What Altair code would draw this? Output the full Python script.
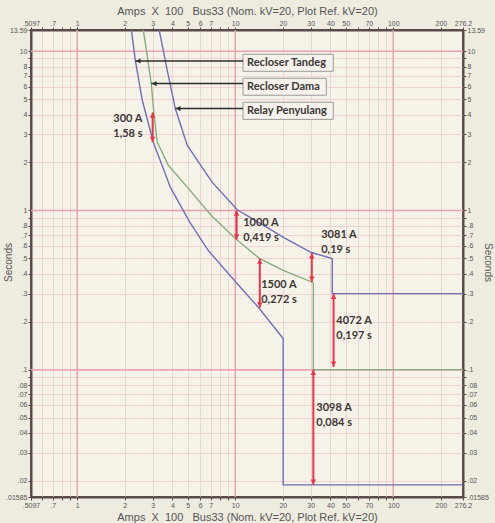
import altair as alt
import pandas as pd

# ---------------- data (Amps x100, seconds) ----------------
tandeg_amps = [2.20, 2.33, 2.58, 3.03, 3.88, 5.12, 6.75, 10.8, 14.2, 20.1, 20.1, 276.2]
tandeg_sec = [13.59, 8.78, 4.92, 2.68, 1.40, 0.853, 0.56, 0.328, 0.242, 0.157, 0.0189, 0.0189]

dama_amps = [2.62, 2.94, 3.05, 3.21, 3.77, 4.97, 7.05, 10.0, 14.2, 20.1, 31.2, 31.2, 276.2]
dama_sec = [13.59, 6.29, 4.13, 2.68, 1.92, 1.40, 0.93, 0.667, 0.50, 0.42, 0.352, 0.10, 0.10]

relay_amps = [3.30, 3.71, 4.17, 4.97, 7.15, 10.3, 14.4, 20.7, 30.3, 41.1, 41.1, 276.2]
relay_sec = [13.59, 7.60, 4.38, 2.56, 1.50, 1.01, 0.828, 0.667, 0.544, 0.499, 0.30, 0.30]

series_names = ["Relay Penyulang", "Recloser Dama", "Recloser Tandeg"]

# red double-arrow annotations
ann_amps = [3.0, 10.2, 30.5, 14.3, 41.9, 31.2]
ann_top = [4.13, 1.0, 0.54, 0.50, 0.30, 0.10]
ann_bot = [2.68, 0.655, 0.355, 0.245, 0.104, 0.0189]
ann_line1 = ["300 A", "1000 A", "3081 A", "1500 A", "4072 A", "3098 A"]
ann_line2 = ["1,58 s", "0,419 s", "0,19 s", "0,272 s", "0,197 s", "0,084 s"]
ann_text_amps = [1.69, 11.23, 35.0, 14.6, 43.6, 32.6]
ann_text_sec = [3.73, 0.828, 0.696, 0.338, 0.203, 0.0577]

# callout boxes
call_labels = ["Recloser Tandeg", "Recloser Dama", "Relay Penyulang"]
call_tip_amps = [2.33, 2.94, 4.17]
call_arrow_sec = [8.69, 6.26, 4.36]
call_box_left = [11.2, 11.2, 11.2]
call_box_right = [41.7, 37.7, 41.7]
call_box_top = [9.57, 6.76, 4.78]
call_box_bottom = [7.48, 5.29, 3.73]
call_text_sec = [8.47, 5.98, 4.22]

# axes
x_domain = [0.5097, 276.2]
y_domain = [0.01585, 13.59]
x_ticks = [0.5097, 0.6, 0.7, 0.8, 0.9, 1, 2, 3, 4, 5, 6, 7, 8, 9, 10, 20, 30, 40, 50,
           60, 70, 80, 90, 100, 200, 276.2]
x_labels = [".5097", "", ".7", "", "", "1", "2", "3", "4", "5", "6", "7", "", "", "10",
            "20", "30", "40", "50", "", "70", "", "", "100", "200", "276.2"]
y_ticks = [0.01585, 0.02, 0.03, 0.04, 0.05, 0.06, 0.07, 0.08, 0.09, 0.1, 0.2, 0.3, 0.4,
           0.5, 0.6, 0.7, 0.8, 0.9, 1, 2, 3, 4, 5, 6, 7, 8, 9, 10, 13.59]
y_labels = [".01585", ".02", ".03", ".04", ".05", ".06", ".07", ".08", "", ".1", ".2",
            ".3", ".4", ".5", ".6", ".7", ".8", "", "1", "2", "3", "4", "5", "6", "7",
            "8", "", "10", "13.59"]
x_major = [1, 10, 100]
y_major = [0.1, 1, 10]

NB = "\u00a0"
x_title = f"Amps{NB} X {NB}100 {NB}{NB}Bus33 (Nom. kV=20, Plot Ref. kV=20)"
y_title = "Seconds"

# ---------------- styles ----------------
BLUE = "#6f6fb4"
GREEN = "#86ad7c"
RED = "#e2384c"
DARK = "#3b3737"
FRAME = "#5b4a4a"
GRID = "#efd3d3"
MAJOR = "#e8a2b2"
FONT = "Lato"
AXFONT = "Liberation Sans"


def label_expr(vals, labels):
    expr = "''"
    for v, l in zip(reversed(vals), reversed(labels)):
        expr = f"(abs(datum.value - {v}) < {v * 1e-4}) ? '{l}' : ({expr})"
    return expr


xs = alt.Scale(type="log", domain=x_domain, nice=False)
ys = alt.Scale(type="log", domain=y_domain, nice=False)

common_axis = dict(
    labelFont=AXFONT, labelFontSize=7, labelColor="#555", tickColor=FRAME,
    tickSize=3, labelPadding=1, domainColor=FRAME, domainWidth=2,
    labelOverlap=False, labelBound=False, labelFlush=False,
    titleFont=AXFONT, titleFontWeight="normal", titleColor="#555",
)


def x_axis(orient, grid):
    return alt.Axis(orient=orient, values=x_ticks, labelExpr=label_expr(x_ticks, x_labels),
                    grid=grid, gridColor=GRID, gridWidth=1, title=x_title,
                    titleFontSize=11, titlePadding=3, **common_axis)


def y_axis(orient, grid, tx):
    return alt.Axis(orient=orient, values=y_ticks, labelExpr=label_expr(y_ticks, y_labels),
                    grid=grid, gridColor=GRID, gridWidth=1, title=y_title,
                    titleFontSize=10, titleX=tx, titleY=232, titleBaseline="middle",
                    titleAlign="center", **common_axis)


axis_df = pd.DataFrame({"a": [1.0], "s": [1.0]})
axes_bl = alt.Chart(axis_df).mark_point(opacity=0).encode(
    x=alt.X("a:Q", scale=xs, axis=x_axis("bottom", True)),
    y=alt.Y("s:Q", scale=ys, axis=y_axis("left", True, -23)),
)
axes_tr = alt.Chart(axis_df).mark_point(opacity=0).encode(
    x=alt.X("a:Q", scale=xs, axis=x_axis("top", False)),
    y=alt.Y("s:Q", scale=ys, axis=y_axis("right", False, 24)),
)

X = lambda f: alt.X(f, scale=xs, axis=None)
Y = lambda f: alt.Y(f, scale=ys, axis=None)

major_x = alt.Chart(pd.DataFrame({"a": x_major})).mark_rule(
    color=MAJOR, strokeWidth=1.5).encode(x=X("a:Q"))
major_y = alt.Chart(pd.DataFrame({"s": y_major})).mark_rule(
    color=MAJOR, strokeWidth=1.5).encode(y=Y("s:Q"))

rows = []
for name, am, se in [("Relay Penyulang", relay_amps, relay_sec),
                     ("Recloser Dama", dama_amps, dama_sec),
                     ("Recloser Tandeg", tandeg_amps, tandeg_sec)]:
    for i, (a, s) in enumerate(zip(am, se)):
        rows.append({"series": name, "a": a, "s": s, "i": i})
curve_df = pd.DataFrame(rows)

curves = alt.Chart(curve_df).mark_line(strokeWidth=1.4, clip=True).encode(
    x=X("a:Q"), y=Y("s:Q"), order="i:Q", detail="series:N",
    color=alt.Color("series:N", legend=None,
                    scale=alt.Scale(domain=series_names, range=[BLUE, GREEN, BLUE])),
)

ann_df = pd.DataFrame({"a": ann_amps, "top": ann_top, "bot": ann_bot,
                       "l1": ann_line1, "l2": ann_line2,
                       "ta": ann_text_amps, "ts": ann_text_sec})
red_shaft = alt.Chart(ann_df).mark_rule(color=RED, strokeWidth=2).encode(
    x=X("a:Q"), y=Y("top:Q"), y2="bot:Q")
red_up = alt.Chart(ann_df).mark_point(shape="triangle-up", filled=True, size=32,
                                      color=RED, opacity=1, yOffset=3).encode(
    x=X("a:Q"), y=Y("top:Q"))
red_down = alt.Chart(ann_df).mark_point(shape="triangle-down", filled=True, size=32,
                                        color=RED, opacity=1, yOffset=-3).encode(
    x=X("a:Q"), y=Y("bot:Q"))
txt_kw = dict(font=FONT, fontSize=11, fontWeight="bold", color=DARK, align="left",
              baseline="middle")
ann_t1 = alt.Chart(ann_df).mark_text(**txt_kw).encode(x=X("ta:Q"), y=Y("ts:Q"), text="l1:N")
ann_t2 = alt.Chart(ann_df).mark_text(dy=15, **txt_kw).encode(x=X("ta:Q"), y=Y("ts:Q"), text="l2:N")

call_df = pd.DataFrame({"lab": call_labels, "tip": call_tip_amps, "ys": call_arrow_sec,
                        "x1": call_box_left, "x2": call_box_right,
                        "y1": call_box_top, "y2": call_box_bottom, "ty": call_text_sec})
call_box = alt.Chart(call_df).mark_rect(fill="#f4f2ea", stroke="#9a9a9a", strokeWidth=1).encode(
    x=X("x1:Q"), x2="x2:Q", y=Y("y1:Q"), y2="y2:Q")
call_line = alt.Chart(call_df).mark_rule(color="#2f2f2f", strokeWidth=1.5).encode(
    x=X("tip:Q"), x2="x1:Q", y=Y("ys:Q"))
call_head = alt.Chart(call_df).mark_point(shape="triangle-left", filled=True, size=28,
                                          color="#2f2f2f", opacity=1, xOffset=3).encode(
    x=X("tip:Q"), y=Y("ys:Q"))
call_txt = alt.Chart(call_df).mark_text(dx=4, **txt_kw).encode(
    x=X("x1:Q"), y=Y("ty:Q"), text="lab:N")

chart = alt.layer(
    axes_bl, axes_tr, major_x, major_y, curves,
    red_shaft, red_up, red_down, ann_t1, ann_t2,
    call_box, call_line, call_head, call_txt,
).resolve_axis(x="independent", y="independent").properties(
    width=432, height=467,
    autosize=alt.AutoSizeParams(type="none"),
    padding={"left": 31, "top": 30, "right": 32, "bottom": 26},
    background="#eeebdf",
).configure_view(fill="#f5f3e8", stroke=FRAME, strokeWidth=2)

chart.save("out.html", embed_options={"renderer": "svg", "actions": False})
